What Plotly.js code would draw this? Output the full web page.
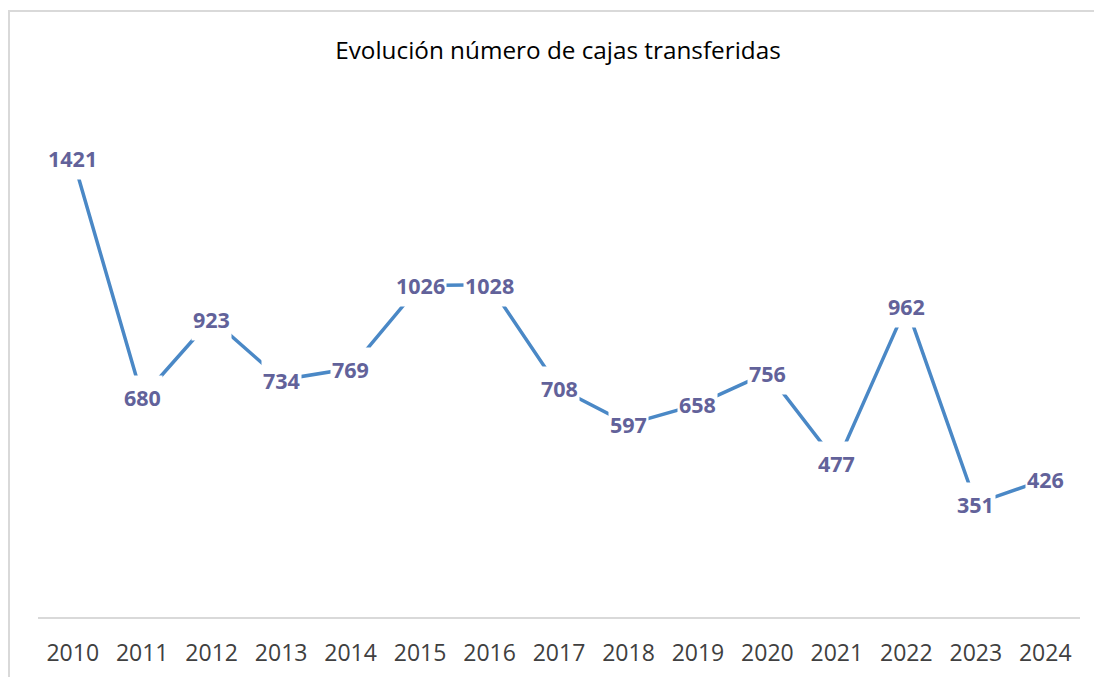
<!DOCTYPE html>
<html>
<head>
<meta charset="utf-8">
<script src="https://cdn.plot.ly/plotly-3.0.1.min.js"></script>
<style>
  html, body { margin: 0; padding: 0; background: #ffffff; }
  #chart { position: absolute; left: 0; top: 0; width: 1094px; height: 677px; }
  #frame { position: absolute; left: 8px; top: 10px; width: 1200px; height: 800px;
           border-left: 2px solid #d9d9d9; border-top: 2px solid #d9d9d9; pointer-events: none; }
</style>
</head>
<body>
<div id="chart"></div>
<div id="frame"></div>
<script>
const years = ["2010","2011","2012","2013","2014","2015","2016","2017","2018","2019","2020","2021","2022","2023","2024"];
const cajas = [1421, 680, 923, 734, 769, 1026, 1028, 708, 597, 658, 756, 477, 962, 351, 426];
const chartTitle = "Evolución número de cajas transferidas";

const trace = {
  type: "scatter",
  mode: "lines",
  x: years,
  y: cajas,
  line: { color: "#4A88C6", width: 3.5 },
  hoverinfo: "skip"
};

const annotations = cajas.map((v, i) => ({
  x: i,
  y: v,
  xref: "x",
  yref: "y",
  text: "<b>" + v + "</b>",
  showarrow: false,
  bgcolor: "#ffffff",
  borderpad: 1,
  height: 40,
  valign: "middle",
  font: { family: "Open Sans, sans-serif", size: 21.5, color: "#62629A" }
}));

const layout = {
  width: 1094,
  height: 677,
  margin: { l: 38, r: 14, t: 100, b: 60 },
  paper_bgcolor: "rgba(0,0,0,0)",
  plot_bgcolor: "#ffffff",
  showlegend: false,
  title: {
    text: chartTitle,
    x: 558 / 1094,
    xref: "container",
    xanchor: "center",
    y: 1 - 50 / 677,
    yref: "container",
    yanchor: "middle",
    font: { family: "Open Sans, sans-serif", size: 24.3, color: "#000000" }
  },
  xaxis: {
    type: "category",
    range: [-0.5, 14.5],
    showgrid: false,
    zeroline: false,
    showline: true,
    linecolor: "#d9d9d9",
    linewidth: 2,
    ticks: "",
    ticklabelstandoff: 14,
    tickfont: { family: "Open Sans, sans-serif", size: 23, color: "#404040" },
    fixedrange: true
  },
  yaxis: {
    range: [0, 1600],
    visible: false,
    showgrid: false,
    zeroline: false,
    fixedrange: true
  },
  annotations: annotations
};

Plotly.newPlot("chart", [trace], layout, { staticPlot: true, displayModeBar: false });
</script>
</body>
</html>
